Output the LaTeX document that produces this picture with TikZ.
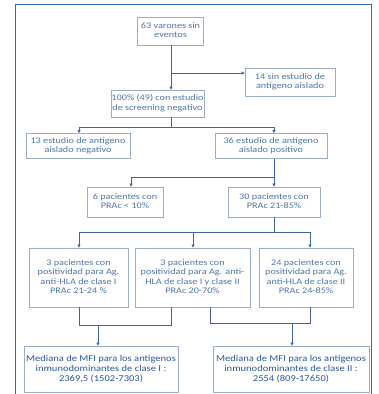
\documentclass[tikz,border=0pt]{standalone}
\usepackage{graphicx}
\usepackage{fontspec}
\setmainfont{Carlito}
\usetikzlibrary{arrows.meta}
\definecolor{frameblue}{HTML}{2F6DB5}
\definecolor{boxgray}{HTML}{9AAEC6}
\definecolor{txtblue}{HTML}{5077AA}
\definecolor{txtdark}{HTML}{2A58A0}
\definecolor{lineblue}{HTML}{3F64A0}
\newcommand{\txa}[1]{\scalebox{1.2}[1]{\begin{tabular}{@{}c@{}}#1\end{tabular}}}
\newcommand{\txb}[1]{\scalebox{1.17}[1]{\begin{tabular}{@{}c@{}}#1\end{tabular}}}
\tikzset{
  fbox/.style={draw=boxgray, line width=0.8pt, fill=white, align=center, inner sep=0pt,
    text=txtblue, font=\fontsize{8.5}{9.6}\selectfont},
  bbox/.style={fbox, text=txtdark, font=\fontsize{9}{10}\selectfont},
  conn/.style={draw=lineblue, line width=0.9pt},
  arr/.style={conn, -{Triangle[length=3pt,width=3pt]}},
}
\begin{document}
\begin{tikzpicture}[x=1pt,y=-1pt]
\useasboundingbox (0,0) rectangle (378,394);
\fill[white] (0,0) rectangle (378,394);
\draw[frameblue, line width=1.6pt] (15.5,400) -- (15.5,4.5) -- (371.5,4.5) -- (371.5,400);

\node[fbox, minimum width=66pt, minimum height=28pt] (n63) at (170.5,31) {\txa{63 varones sin\\eventos}};
\node[fbox, minimum width=90pt, minimum height=28pt] (n14) at (290,82) {\txa{14 sin estudio de\\antígeno aislado}};
\node[fbox, minimum width=93pt, minimum height=27pt] (n100) at (157.5,103.5) {\txa{100\% (49) con estudio\\de screening negativo}};
\node[fbox, minimum width=104pt, minimum height=25pt] (n13) at (78,146) {\txa{13 estudio de antígeno\\aislado negativo}};
\node[fbox, minimum width=112pt, minimum height=25pt] (n36) at (271,146) {\txa{36 estudio de antígeno\\aislado positivo}};
\node[fbox, minimum width=76pt, minimum height=30pt] (n6) at (125,202) {\txa{6 pacientes con\\PRAc < 10\%}};
\node[fbox, minimum width=92pt, minimum height=30pt] (n30) at (274,202) {\txa{30 pacientes con\\PRAc 21-85\%}};
\node[fbox, minimum width=99pt, minimum height=59pt] (nL) at (78.5,277.5) {\txa{3 pacientes con\\positividad para Ag.\\anti-HLA de clase I\\PRAc 21-24 \%}};
\node[fbox, minimum width=115pt, minimum height=59pt] (nM) at (192.5,277.5) {\txa{3 pacientes con\\positividad para Ag. anti-\\HLA de clase I y clase II\\PRAc 20-70\%}};
\node[fbox, minimum width=94pt, minimum height=59pt] (nR) at (306,277.5) {\txa{24 pacientes con\\positividad para Ag.\\anti-HLA de clase II\\PRAc 24-85\%}};
\node[bbox, minimum width=154pt, minimum height=46pt] (bL) at (101,369) {\txb{Mediana de MFI para los antígenos\\inmunodominantes de clase I :\\2369,5 (1502-7303)}};
\node[bbox, minimum width=156pt, minimum height=46pt] (bR) at (291,369) {\txb{Mediana de MFI para los antígenos\\inmunodominantes de clase II :\\2554 (809-17650)}};

% connectors
\coordinate (j1) at (171,73);
\draw[arr] (n63.south -| j1) -- (n100.north -| j1);
\draw[arr] (j1) -- (n14.west |- j1);

\coordinate (j2) at (171,127);
\draw[conn] (n100.south -| j2) -- (j2);
\draw[conn] (79,127) -- (274,127);
\draw[arr] (79,127) -- (n13.north -| 79,0);
\draw[arr] (274,127) -- (n36.north -| 274,0);

\coordinate (j3) at (274,177);
\draw[conn] (n36.south -| j3) -- (j3) -- (131,177);
\draw[arr] (131,177) -- (n6.north -| 131,0);
\draw[arr] (j3) -- (n30.north -| j3);

\coordinate (j4) at (274,232);
\draw[conn] (n30.south -| j4) -- (j4);
\draw[conn] (79,232) -- (310,232);
\draw[arr] (79,232) -- (nL.north -| 79,0);
\draw[arr] (193,232) -- (nM.north -| 193,0);
\draw[arr] (310,232) -- (nR.north -| 310,0);

\coordinate (j5) at (98,325);
\draw[conn] (nL.south -| 79,0) -- (79,325) -- (171,325) -- (nM.south -| 171,0);
\draw[arr] (j5) -- (bL.north -| j5);

\coordinate (j6) at (292,323);
\draw[conn] (nM.south -| 210,0) -- (210,323) -- (310,323) -- (nR.south -| 310,0);
\draw[arr] (j6) -- (bR.north -| j6);
\end{tikzpicture}
\end{document}
